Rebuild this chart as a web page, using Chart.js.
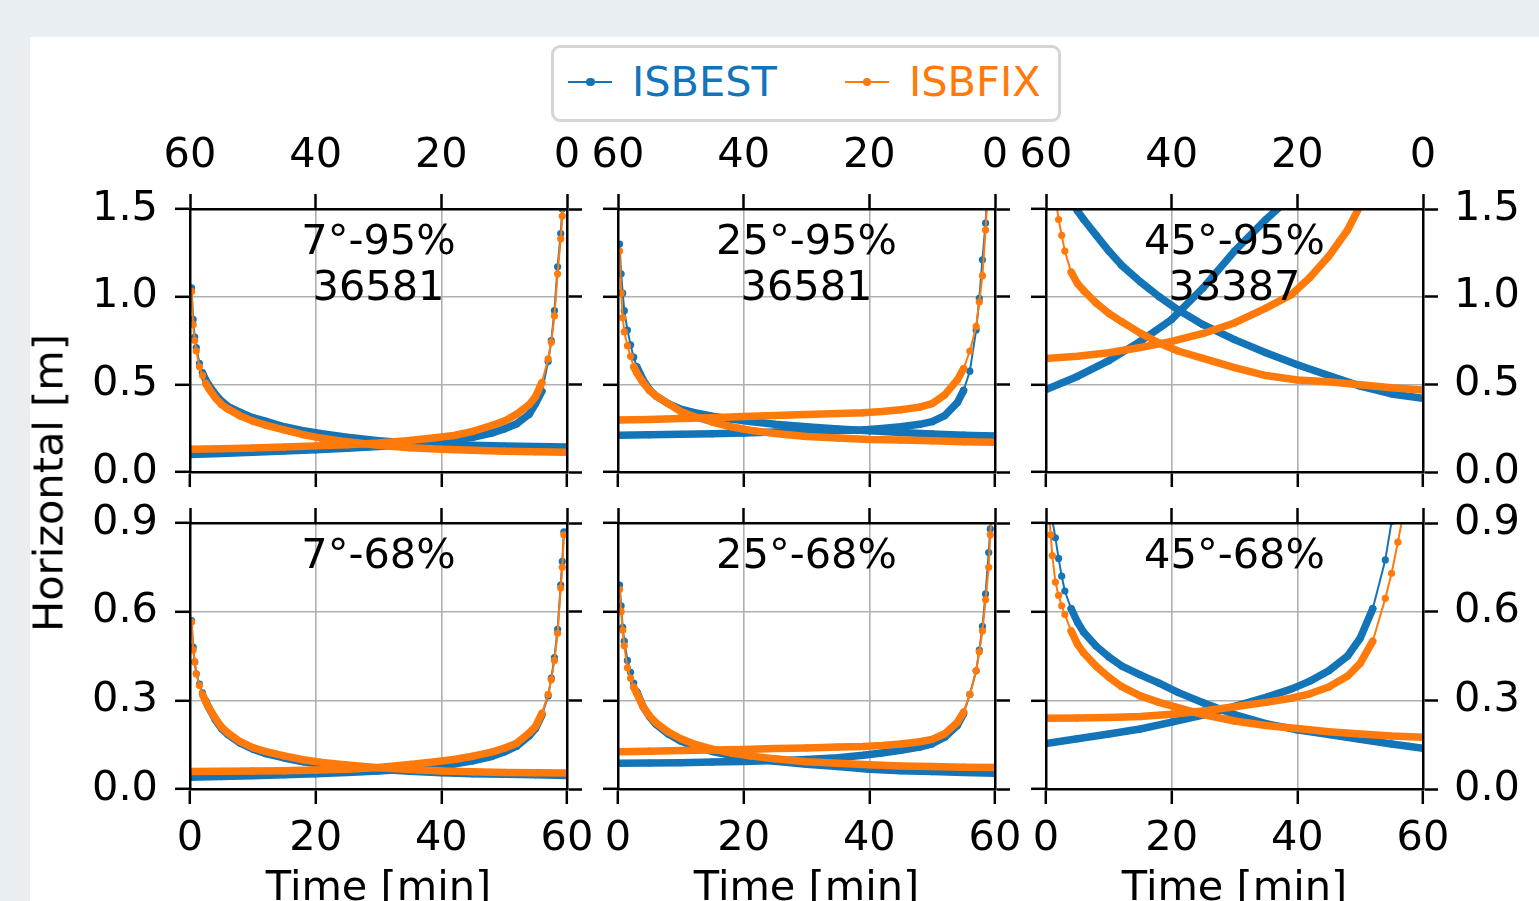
<!DOCTYPE html>
<html lang="pt">
<head>
<meta charset="utf-8">
<title>Convergência horizontal ISBEST x ISBFIX</title>
<script src="https://cdn.jsdelivr.net/npm/chart.js@4.4.1/dist/chart.umd.min.js"></script>
<style>
    html, body { margin: 0; padding: 0; }
    body {
        width: 1539px; height: 901px; overflow: hidden; position: relative;
        background: #e8eef1;
        font-family: "DejaVu Sans", sans-serif;
    }
    #folha { position: absolute; left: 30px; top: 37px; right: 0; bottom: 0; background: #fff; }
    .painel { position: absolute; left: 0; top: 0; }
    #rotuloY {
        position: absolute; left: 48px; top: 483px;
        transform: translate(-50%, -50%) rotate(-90deg);
        font-size: 41.5px; white-space: nowrap; color: #000;
    }
    #legenda {
        position: absolute; left: 551px; top: 45px; width: 510px; height: 77px;
        box-sizing: border-box; border: 3px solid #d5d5d5; border-radius: 9px;
        background: #fff; display: flex; align-items: center; padding-left: 14px;
    }
    .item { display: flex; align-items: center; font-size: 41.5px; margin-right: 68px; }
    .item b { font-weight: normal; position: relative; top: -2px; }
    .marca { position: relative; width: 44px; height: 2.5px; margin-right: 20px; margin-top: -3px; }
    .marca i { position: absolute; left: 18px; top: -3px; width: 8.5px; height: 8.5px; border-radius: 50%; }
</style>
</head>
<body>
<div id="folha"></div>
<div id="graficos"></div>
<div id="legenda"></div>
<div id="rotuloY">Horizontal [m]</div>

<script>
// tempos (min) em que os valores foram lidos; a curva "volta" usa o eixo de cima (60 -> 0)
const minutos = [0.25, 0.5, 0.75, 1, 1.5, 2, 2.5, 3, 4, 5, 6, 8, 10, 12, 15, 18, 21, 25, 30, 35, 40, 45, 50, 55, 60];

const ticksTempo = [0, 20, 40, 60];
const rotulosTempo = ['0', '20', '40', '60'];
const ticks95 = [0, 0.5, 1.0, 1.5];
const rotulos95 = ['0.0', '0.5', '1.0', '1.5'];
const ticks68 = [0, 0.3, 0.6, 0.9];
const rotulos68 = ['0.0', '0.3', '0.6', '0.9'];

const nomesSeries = ['ISBEST', 'ISBFIX'];
const coresSeries = ['#1374b7', '#ff7a0a'];

const anotacoes = [
    ['7°-95%', '36581'], ['25°-95%', '36581'], ['45°-95%', '33387'],
    ['7°-68%'], ['25°-68%'], ['45°-68%']
];

// 7° - 95%
const best7_95_ida   = [1.05, 0.87, 0.77, 0.71, 0.62, 0.565, 0.525, 0.495, 0.445, 0.405, 0.375, 0.34, 0.31, 0.29, 0.258, 0.236, 0.218, 0.198, 0.178, 0.166, 0.158, 0.152, 0.148, 0.145, 0.143];
const fix7_95_ida    = [1.03, 0.84, 0.75, 0.69, 0.60, 0.55, 0.505, 0.475, 0.425, 0.385, 0.36, 0.32, 0.29, 0.268, 0.24, 0.213, 0.192, 0.172, 0.152, 0.138, 0.13, 0.124, 0.119, 0.115, 0.112];
const best7_95_volta = [null, 1.75, 1.5, 1.36, 1.17, 0.92, 0.75, 0.63, 0.46, 0.39, 0.33, 0.275, 0.245, 0.222, 0.198, 0.182, 0.17, 0.158, 0.146, 0.136, 0.127, 0.12, 0.112, 0.106, 0.10];
const fix7_95_volta  = [null, 1.70, 1.46, 1.33, 1.13, 0.89, 0.74, 0.645, 0.51, 0.43, 0.385, 0.33, 0.29, 0.265, 0.232, 0.208, 0.195, 0.18, 0.166, 0.156, 0.149, 0.142, 0.137, 0.133, 0.13];

// 25° - 95%
const best25_95_ida   = [1.30, 1.13, 1.02, 0.92, 0.81, 0.725, 0.655, 0.60, 0.525, 0.47, 0.435, 0.39, 0.358, 0.34, 0.318, 0.302, 0.288, 0.272, 0.258, 0.245, 0.235, 0.225, 0.217, 0.21, 0.205];
const fix25_95_ida    = [1.26, 1.02, 0.88, 0.80, 0.72, 0.66, 0.60, 0.565, 0.51, 0.465, 0.435, 0.39, 0.345, 0.318, 0.285, 0.258, 0.238, 0.22, 0.202, 0.194, 0.186, 0.182, 0.178, 0.173, 0.169];
const best25_95_volta = [null, 2.3, 1.95, 1.75, 1.42, 1.21, 0.99, 0.81, 0.575, 0.465, 0.395, 0.322, 0.287, 0.272, 0.258, 0.248, 0.24, 0.236, 0.232, 0.228, 0.222, 0.218, 0.215, 0.212, 0.21];
const fix25_95_volta  = [null, 2.1, 1.85, 1.7, 1.38, 1.12, 0.97, 0.83, 0.69, 0.59, 0.525, 0.44, 0.39, 0.37, 0.355, 0.345, 0.338, 0.333, 0.328, 0.322, 0.316, 0.31, 0.305, 0.30, 0.297];

// 45° - 95%
const best45_95_ida   = [null, null, null, null, null, null, null, 1.62, 1.55, 1.49, 1.44, 1.35, 1.26, 1.18, 1.085, 1.0, 0.925, 0.84, 0.755, 0.68, 0.612, 0.55, 0.49, 0.445, 0.42];
const fix45_95_ida    = [null, null, null, 1.9, 1.58, 1.44, 1.35, 1.26, 1.14, 1.075, 1.035, 0.963, 0.905, 0.858, 0.792, 0.736, 0.69, 0.648, 0.595, 0.55, 0.525, 0.515, 0.498, 0.48, 0.468];
const best45_95_volta = [null, null, null, null, null, null, null, null, null, null, null, null, null, null, null, null, 1.57, 1.44, 1.26, 1.05, 0.87, 0.745, 0.635, 0.545, 0.47];
const fix45_95_volta  = [null, null, null, null, null, null, null, null, null, null, null, 1.7, 1.52, 1.38, 1.23, 1.11, 1.01, 0.935, 0.85, 0.79, 0.745, 0.71, 0.68, 0.66, 0.648];

// 7° - 68%
const best7_68_ida   = [0.57, 0.48, 0.43, 0.39, 0.355, 0.325, 0.298, 0.275, 0.235, 0.205, 0.185, 0.155, 0.135, 0.12, 0.105, 0.092, 0.083, 0.075, 0.067, 0.06, 0.055, 0.052, 0.05, 0.048, 0.046];
const fix7_68_ida    = [0.565, 0.47, 0.43, 0.39, 0.35, 0.32, 0.295, 0.275, 0.24, 0.21, 0.19, 0.16, 0.14, 0.127, 0.112, 0.099, 0.09, 0.081, 0.072, 0.066, 0.061, 0.058, 0.056, 0.055, 0.054];
const best7_68_volta = [null, 0.87, 0.77, 0.69, 0.54, 0.445, 0.375, 0.315, 0.25, 0.205, 0.18, 0.145, 0.125, 0.11, 0.095, 0.084, 0.076, 0.068, 0.061, 0.056, 0.052, 0.048, 0.045, 0.042, 0.04];
const fix7_68_volta  = [null, 0.86, 0.75, 0.68, 0.527, 0.435, 0.37, 0.32, 0.256, 0.212, 0.19, 0.155, 0.138, 0.125, 0.111, 0.1, 0.092, 0.083, 0.073, 0.067, 0.064, 0.062, 0.061, 0.06, 0.059];

// 25° - 68%
const best25_68_ida   = [0.69, 0.62, 0.547, 0.50, 0.435, 0.395, 0.358, 0.329, 0.278, 0.245, 0.22, 0.186, 0.162, 0.145, 0.127, 0.114, 0.104, 0.094, 0.084, 0.076, 0.067, 0.062, 0.059, 0.056, 0.053];
const fix25_68_ida    = [0.675, 0.6, 0.537, 0.485, 0.41, 0.375, 0.345, 0.323, 0.278, 0.248, 0.225, 0.193, 0.17, 0.153, 0.135, 0.122, 0.112, 0.102, 0.092, 0.087, 0.082, 0.078, 0.076, 0.074, 0.073];
const best25_68_volta = [null, 0.97, 0.88, 0.80, 0.66, 0.55, 0.47, 0.40, 0.32, 0.255, 0.215, 0.175, 0.153, 0.142, 0.131, 0.122, 0.114, 0.106, 0.10, 0.096, 0.093, 0.091, 0.089, 0.088, 0.087];
const fix25_68_volta  = [null, 0.95, 0.86, 0.75, 0.64, 0.535, 0.464, 0.40, 0.32, 0.26, 0.225, 0.187, 0.168, 0.16, 0.152, 0.147, 0.144, 0.142, 0.139, 0.137, 0.134, 0.132, 0.13, 0.128, 0.126];

// 45° - 68%
const best45_68_ida   = [null, 1.05, 0.96, 0.91, 0.85, 0.78, 0.72, 0.67, 0.61, 0.565, 0.53, 0.483, 0.447, 0.417, 0.386, 0.358, 0.327, 0.292, 0.252, 0.221, 0.20, 0.184, 0.168, 0.152, 0.138];
const fix45_68_ida    = [null, 0.92, 0.86, 0.79, 0.70, 0.655, 0.62, 0.59, 0.535, 0.49, 0.46, 0.415, 0.378, 0.347, 0.315, 0.293, 0.275, 0.252, 0.23, 0.215, 0.205, 0.194, 0.186, 0.179, 0.175];
const best45_68_volta = [null, null, null, null, null, null, null, null, 0.98, 0.905, 0.775, 0.61, 0.51, 0.45, 0.40, 0.365, 0.338, 0.31, 0.28, 0.25, 0.226, 0.203, 0.186, 0.17, 0.154];
const fix45_68_volta  = [null, null, null, null, null, null, null, 0.95, 0.835, 0.73, 0.645, 0.50, 0.425, 0.382, 0.345, 0.322, 0.307, 0.293, 0.278, 0.264, 0.253, 0.245, 0.242, 0.24, 0.239];

const paineis = [
    { best: [best7_95_ida, best7_95_volta],   fix: [fix7_95_ida, fix7_95_volta] },
    { best: [best25_95_ida, best25_95_volta], fix: [fix25_95_ida, fix25_95_volta] },
    { best: [best45_95_ida, best45_95_volta], fix: [fix45_95_ida, fix45_95_volta] },
    { best: [best7_68_ida, best7_68_volta],   fix: [fix7_68_ida, fix7_68_volta] },
    { best: [best25_68_ida, best25_68_volta], fix: [fix25_68_ida, fix25_68_volta] },
    { best: [best45_68_ida, best45_68_volta], fix: [fix45_68_ida, fix45_68_volta] }
];

// ---- geometria da figura ----
const LARGURA = 1539, ALTURA = 960;
const colunaEsq = [190, 618, 1046];
const larguraPainel = 377;
const linhaTopo = [209, 523];
const alturaLinha = [263, 266];
const EIXO = 100, EIXO_BAIXO = 150;

const fonteEixo = { family: 'DejaVu Sans', size: 41.5 };

function fixarTamanho(tamanho) {
    return function (scale) {
        if (scale.isHorizontal()) scale.height = tamanho;
        else scale.width = tamanho;
        scale.paddingLeft = 0; scale.paddingRight = 0;
        scale.paddingTop = 0; scale.paddingBottom = 0;
    };
}

function fixarTicks(valores) {
    return function (scale) {
        scale.ticks = valores.map(function (v) { return { value: v }; });
    };
}

// trechos ingremes: linha fina com marcadores; trechos suaves: faixa grossa (pontos muito densos no original)
function larguraSegmento(ctx) {
    var dx = Math.abs(ctx.p1.x - ctx.p0.x);
    var dy = Math.abs(ctx.p1.y - ctx.p0.y);
    return dy > 2.5 * dx ? 2 : 7.5;
}

var pluginAnotacao = {
    id: 'anotacao',
    afterDatasetsDraw: function (chart, args, opts) {
        var area = chart.chartArea;
        var ctx = chart.ctx;
        ctx.save();
        ctx.font = '41.5px "DejaVu Sans"';
        ctx.fillStyle = '#000';
        ctx.textAlign = 'center';
        ctx.textBaseline = 'middle';
        opts.linhas.forEach(function (txt, i) {
            ctx.fillText(txt, (area.left + area.right) / 2, area.top + 34 + i * 46);
        });
        ctx.restore();
    }
};

function criarSerie(valores, cor, eixoX) {
    return {
        data: minutos.map(function (t, i) { return { x: t, y: valores[i] }; }),
        xAxisID: eixoX,
        yAxisID: 'y',
        borderColor: cor,
        backgroundColor: cor,
        pointBackgroundColor: cor,
        pointBorderWidth: 0,
        pointRadius: 3.6,
        borderWidth: 2,
        borderCapStyle: 'round',
        borderJoinStyle: 'round',
        segment: { borderWidth: larguraSegmento },
        tension: 0,
        fill: false,
        clip: 0
    };
}

function criarPainel(indice) {
    var col = indice % 3;
    var lin = Math.floor(indice / 3);
    var esq = colunaEsq[col], topo = linhaTopo[lin];
    var alt = alturaLinha[lin];
    var ticksY = lin === 0 ? ticks95 : ticks68;
    var rotulosY = lin === 0 ? rotulos95 : rotulos68;
    var painel = paineis[indice];

    var canvas = document.createElement('canvas');
    canvas.className = 'painel';
    canvas.width = LARGURA;
    canvas.height = ALTURA;
    document.getElementById('graficos').appendChild(canvas);

    var grade = { color: '#b0b0b0', lineWidth: 1.6, drawTicks: true, tickLength: 15, tickColor: '#000', tickWidth: 2.5 };
    var semGrade = { drawOnChartArea: false, drawTicks: true, tickLength: 15, tickColor: '#000', tickWidth: 2.5 };
    var borda = { display: true, color: '#000', width: 2.5, z: 1 };

    function rotuloTempo(v, i) { return rotulosTempo[i]; }
    function rotuloAltura(v, i) { return rotulosY[i]; }

    // ISBFIX primeiro para ficar por cima (Chart.js desenha o primeiro conjunto por último)
    var conjuntos = [
        criarSerie(painel.fix[0], coresSeries[1], 'x'),
        criarSerie(painel.fix[1], coresSeries[1], 'x2'),
        criarSerie(painel.best[0], coresSeries[0], 'x'),
        criarSerie(painel.best[1], coresSeries[0], 'x2')
    ];

    const config = {
        type: 'line',
        data: { datasets: conjuntos },
        plugins: [pluginAnotacao],
        options: {
            responsive: false,
            animation: false,
            devicePixelRatio: 1,
            events: [],
            layout: {
                padding: {
                    left: esq - EIXO,
                    right: LARGURA - (esq + larguraPainel) - EIXO,
                    top: topo - EIXO,
                    bottom: ALTURA - (topo + alt) - EIXO_BAIXO
                }
            },
            plugins: {
                legend: { display: false },
                tooltip: { enabled: false },
                anotacao: { linhas: anotacoes[indice] }
            },
            scales: {
                x: {
                    type: 'linear', position: 'bottom', min: 0, max: 60,
                    afterBuildTicks: fixarTicks(ticksTempo),
                    afterFit: fixarTamanho(EIXO_BAIXO),
                    ticks: { display: lin === 1, font: fonteEixo, color: '#000', padding: 10, maxRotation: 0, autoSkip: false, callback: rotuloTempo },
                    grid: grade,
                    border: borda,
                    title: { display: lin === 1, text: 'Time [min]', font: fonteEixo, color: '#000', padding: { top: 0, bottom: 25 } }
                },
                x2: {
                    type: 'linear', position: 'top', min: 0, max: 60, reverse: true,
                    afterBuildTicks: fixarTicks(ticksTempo),
                    afterFit: fixarTamanho(EIXO),
                    ticks: { display: lin === 0, font: fonteEixo, color: '#000', padding: 13, maxRotation: 0, autoSkip: false, callback: rotuloTempo },
                    grid: semGrade,
                    border: borda
                },
                y: {
                    type: 'linear', position: 'left', min: ticksY[0], max: ticksY[ticksY.length - 1],
                    afterBuildTicks: fixarTicks(ticksY),
                    afterFit: fixarTamanho(EIXO),
                    ticks: { display: col === 0, font: fonteEixo, color: '#000', padding: 17, autoSkip: false, callback: rotuloAltura },
                    grid: grade,
                    border: borda
                },
                y2: {
                    type: 'linear', position: 'right', min: ticksY[0], max: ticksY[ticksY.length - 1],
                    afterBuildTicks: fixarTicks(ticksY),
                    afterFit: fixarTamanho(EIXO),
                    ticks: { display: col === 2, font: fonteEixo, color: '#000', padding: 16, autoSkip: false, callback: rotuloAltura },
                    grid: semGrade,
                    border: borda
                }
            }
        }
    };

    return new Chart(canvas, config);
}

function montarLegenda() {
    var legenda = document.getElementById('legenda');
    nomesSeries.forEach(function (nome, i) {
        var item = document.createElement('div');
        item.className = 'item';
        item.style.color = coresSeries[i];
        item.innerHTML = '<span class="marca" style="background:' + coresSeries[i] + '"><i style="background:' + coresSeries[i] + '"></i></span><b>' + nome + '</b>';
        legenda.appendChild(item);
    });
}

montarLegenda();
for (var i = 0; i < paineis.length; i++) {
    criarPainel(i);
}
</script>
</body>
</html>
